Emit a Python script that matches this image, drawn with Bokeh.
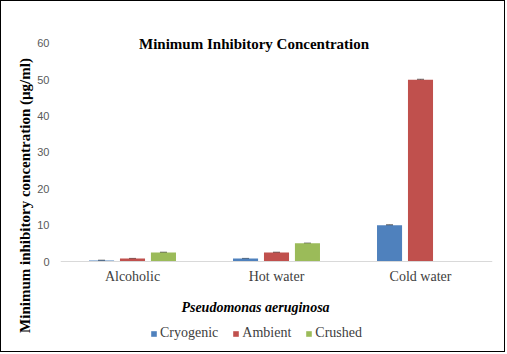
import math
from bokeh.plotting import figure
from bokeh.models import (FactorRange, Range1d, ColumnDataSource, Whisker, TeeHead,
                          Label, Legend, LegendItem)
from bokeh.transform import dodge
from bokeh.embed import file_html
from bokeh.resources import INLINE

categories = ["Alcoholic", "Hot water", "Cold water"]
series = ["Cryogenic", "Ambient", "Crushed"]
cryogenic = [0.3, 0.8, 10.0]
ambient = [0.8, 2.5, 50.0]
crushed = [2.5, 5.0, 0.0]
cryogenic_err = [0.05, 0.05, 0.1]
ambient_err = [0.05, 0.05, 0.15]
crushed_err = [0.05, 0.05, 0.0]
colors = ["#4F81BD", "#C0504D", "#9BBB59"]
y_ticks = [0, 10, 20, 30, 40, 50, 60]

title_text = "Minimum Inhibitory Concentration"
y_title = "Minimum inhibitory concentration (\u00b5g/ml)"
x_title = "Pseudomonas aeruginosa"

p = figure(x_range=FactorRange(*categories, range_padding=0), y_range=Range1d(-25.32, 61.65),
           width=505, height=352, output_backend="svg", toolbar_location=None,
           min_border_left=59, min_border_right=14, min_border_top=36, min_border_bottom=0)
p.styles = {"border": "1px solid #000000"}
p.outline_line_color = None
p.grid.grid_line_color = None
p.background_fill_color = "white"
p.border_fill_color = "white"

p.yaxis.ticker = y_ticks
p.yaxis.axis_line_color = None
p.yaxis.major_tick_line_color = None
p.yaxis.minor_tick_line_color = None
p.yaxis.major_label_text_font = "Liberation Sans"
p.yaxis.major_label_text_font_size = "11px"
p.yaxis.major_label_text_color = "#595959"
p.yaxis.major_label_standoff = 5
p.yaxis.axis_label = y_title
p.yaxis.axis_label_text_font = "Liberation Serif"
p.yaxis.axis_label_text_font_size = "15px"
p.yaxis.axis_label_text_font_style = "bold"
p.yaxis.axis_label_text_color = "#000000"
p.yaxis.axis_label_standoff = 1

p.xaxis.fixed_location = 0
p.xaxis.axis_line_color = "#D9D9D9"
p.xaxis.major_tick_line_color = None
p.xaxis.minor_tick_line_color = None
p.xaxis.major_label_text_font = "Liberation Serif"
p.xaxis.major_label_text_font_size = "14px"
p.xaxis.major_label_text_color = "#404040"
p.xaxis.major_label_standoff = 1

src = ColumnDataSource(dict(
    cat=categories,
    cryo=cryogenic, amb=ambient, cru=crushed,
    cryo_up=[v + e for v, e in zip(cryogenic, cryogenic_err)],
    cryo_lo=[v - e for v, e in zip(cryogenic, cryogenic_err)],
    amb_up=[v + e for v, e in zip(ambient, ambient_err)],
    amb_lo=[v - e for v, e in zip(ambient, ambient_err)],
))
src_cru = ColumnDataSource(dict(
    cat=[c for c, v in zip(categories, crushed) if v > 0],
    cru=[v for v in crushed if v > 0],
    cru_up=[v + e for v, e in zip(crushed, crushed_err) if v > 0],
    cru_lo=[v - e for v, e in zip(crushed, crushed_err) if v > 0],
))

off = 0.215
w = 0.174
r1 = p.vbar(x=dodge("cat", -off, range=p.x_range), top="cryo", width=w, source=src,
            fill_color=colors[0], line_color=None)
r2 = p.vbar(x=dodge("cat", 0, range=p.x_range), top="amb", width=w, source=src,
            fill_color=colors[1], line_color=None)
r3 = p.vbar(x=dodge("cat", off, range=p.x_range), top="cru", width=w, source=src_cru,
            fill_color=colors[2], line_color=None)

for base_off, up, lo, s in [(-off, "cryo_up", "cryo_lo", src), (0, "amb_up", "amb_lo", src),
                            (off, "cru_up", "cru_lo", src_cru)]:
    wk = Whisker(base=dodge("cat", base_off, range=p.x_range), upper=up, lower=lo, source=s,
                 line_color="#595959", line_width=1,
                 upper_head=TeeHead(size=7, line_color="#595959", line_width=1),
                 lower_head=TeeHead(size=7, line_color="#595959", line_width=1))
    p.add_layout(wk)

p.add_layout(Label(x=1.344, y=59.9, text=title_text, text_font="Liberation Serif",
                   text_font_size="15px", text_font_style="bold", text_color="#000000",
                   text_align="center", text_baseline="middle"))
p.add_layout(Label(x=1.354, y=-12.6, text=x_title, text_font="Liberation Serif",
                   text_font_size="14px", text_font_style="bold italic", text_color="#000000",
                   text_align="center", text_baseline="middle"))

legend = Legend(items=[LegendItem(label=series[0], renderers=[r1]),
                       LegendItem(label=series[1], renderers=[r2]),
                       LegendItem(label=series[2], renderers=[r3])],
                orientation="horizontal", location=(90, 12),
                glyph_width=7, glyph_height=7, label_standoff=3, spacing=14,
                padding=0, margin=0, border_line_color=None, background_fill_alpha=0,
                label_text_font="Liberation Serif", label_text_font_size="14px",
                label_text_color="#404040")
p.add_layout(legend, "center")

open("out.html", "w").write(file_html(p, INLINE))
